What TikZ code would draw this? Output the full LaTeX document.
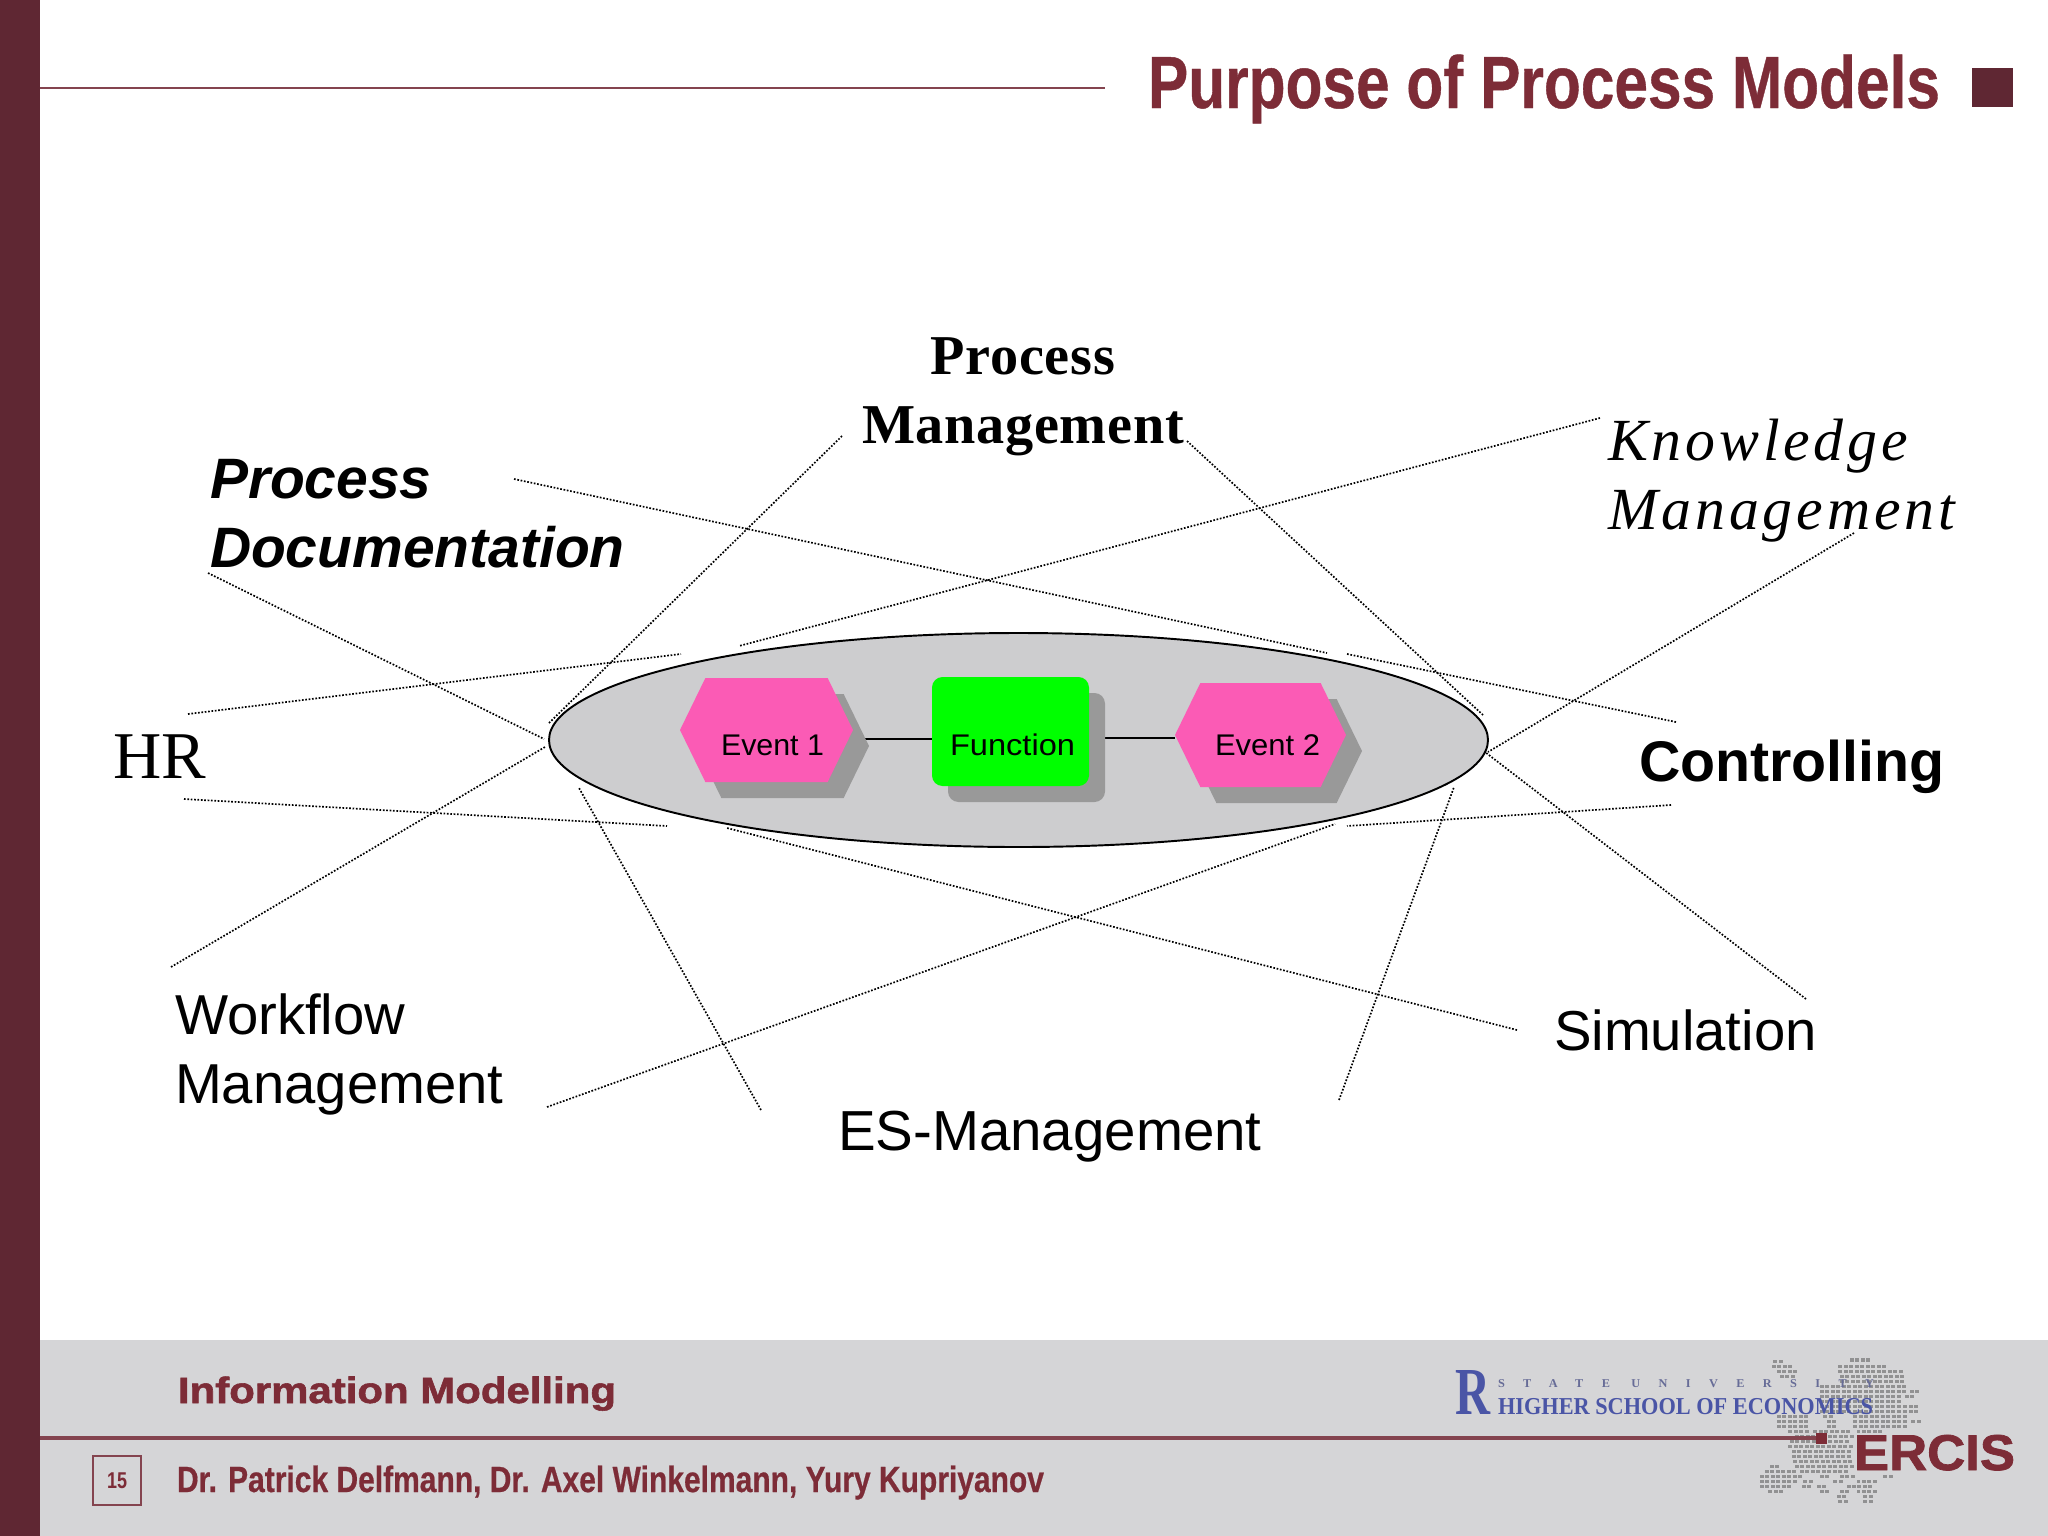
\documentclass[tikz,border=0pt]{standalone}
\usepackage{fontspec}
\usepackage{graphicx}
\usetikzlibrary{shapes.symbols,backgrounds}
\setmainfont{Liberation Serif}
\setsansfont{Liberation Sans}
\newfontfamily\pmfont[LetterSpace=1.2]{Liberation Serif}
\newfontfamily\kmfont[LetterSpace=6.5]{Liberation Serif}
\newfontfamily\hsefont[LetterSpace=150]{Liberation Serif}
\newfontfamily\heavyfont[FakeBold=1.5]{Liberation Sans Bold}
\newfontfamily\midfont[FakeBold=0.6]{Liberation Sans Bold}
\definecolor{sidebar}{HTML}{5F2733}
\definecolor{maroon}{HTML}{7D2C37}
\definecolor{rulered}{HTML}{84444F}
\definecolor{band}{HTML}{D5D5D7}
\definecolor{oval}{HTML}{CDCDCF}
\definecolor{hseblue}{HTML}{4A55A6}
\definecolor{evpink}{HTML}{FB5BB5}
\definecolor{fngreen}{HTML}{00FF00}
\newdimen\pxu \pxu=0.01cm
\newcommand{\fitw}[2]{\resizebox{#1\pxu}{\height}{#2}}
\tikzset{
  txt/.style={inner sep=0pt,outer sep=0pt,anchor=base west,align=left},
  big/.style={txt,font=\fontsize{16}{19.6}\selectfont\sffamily},
  serifbig/.style={txt,font=\fontsize{16}{19.6}\selectfont},
  dotline/.style={line width=.48pt,dash pattern=on .48pt off .48pt},
  evbox/.style={shape=signal,signal to=west and east,signal pointer angle=128,
    draw=none,inner sep=0pt,outer sep=0pt,minimum height=104\pxu},
  fnbox/.style={rectangle,rounded corners=3pt,draw=none,inner sep=0pt,outer sep=0pt,
    minimum width=157\pxu,minimum height=109\pxu},
  small/.style={txt,font=\fontsize{8.5}{10}\selectfont\sffamily}
}
\begin{document}
\begin{tikzpicture}[x=0.01cm,y=-0.01cm]
  \useasboundingbox (0,0) rectangle (2048,1536);
  % page furniture
  \fill[band] (0,1340) rectangle (2048,1536);
  \fill[sidebar] (0,0) rectangle (40,1536);
  \draw[rulered,line width=.55pt] (40,88) -- (1105,88);
  \node[txt,font=\fontsize{21}{24}\selectfont\midfont,text=maroon] (title) at (1148,108)
    {\fitw{792}{Purpose of Process Models}};
  \node[fill=sidebar,inner sep=0pt,minimum width=41\pxu,minimum height=39\pxu] (titlemark) at (1992.5,87.5) {};
  % europe map
  \begin{scope}[shift={(1740,1345)},x=0.00333cm,y=-0.00333cm]
    \foreach \ry/\ra/\rb in {
      40/330/380,45/100/125,60/95/160,60/295/435,75/110/160,75/295/490,90/120/160,90/300/490,
      105/300/490,120/240/490,135/240/490,135/510/525,150/240/480,150/495/510,165/240/480,
      180/240/480,180/490/525,195/240/480,195/490/525,210/110/200,210/250/275,210/340/490,
      225/110/200,225/260/280,225/340/490,225/515/525,240/110/195,240/260/275,240/340/490,
      255/145/195,255/220/330,255/350/420,270/165/330,285/150/330,300/145/330,315/155/330,
      330/155/330,345/160/330,360/90/105,360/165/330,375/75/170,375/180/315,390/60/180,
      390/240/250,390/300/340,390/430/460,405/60/175,405/190/195,405/280/310,405/350/400,
      420/60/150,420/185/195,420/230/250,420/320/400,435/85/120,435/240/250,435/300/320,
      435/350/400,450/290/320,450/370/395,465/295/305,465/370/380} {
      \pgfmathsetmacro{\rc}{\ra+16.5}
      \foreach \rx in {\ra,\rc,...,\rb} {
        \fill[black!32!band] (\rx,\ry) rectangle ++(12,10);
      }
    }
  \end{scope}
  % footer
  \draw[rulered,line width=1.2pt] (40,1438) -- (1821,1438);
  \node[fill=maroon,inner sep=0pt,minimum size=11\pxu] (linemark) at (1821,1438) {};
  \node[txt,font=\fontsize{10.4}{12}\selectfont\heavyfont,text=maroon] (course) at (178,1403)
    {\fitw{438}{Information Modelling}};
  \node[txt,font=\fontsize{10.4}{12}\selectfont\midfont,text=maroon] (authors) at (177,1492)
    {\fitw{867}{Dr. Patrick Delfmann, Dr. Axel Winkelmann, Yury Kupriyanov}};
  \node[draw=rulered,line width=.7pt,minimum width=48\pxu,minimum height=49\pxu,inner sep=0pt,
    font=\fontsize{6.5}{8}\selectfont\sffamily\bfseries,text=maroon] (pagebox) at (117,1480.5)
    {\fitw{20}{15}};
  % logos
  \node[txt,font=\fontsize{20}{20}\selectfont\bfseries,text=hseblue] (hselogo) at (1455,1414)
    {\resizebox{35\pxu}{44\pxu}{R}};
  \node[txt,font=\fontsize{3.4}{4}\selectfont\hsefont\bfseries,text=hseblue!70!black!75] (hsetop) at (1498,1387)
    {\fitw{376}{STATE UNIVERSITY}};
  \node[txt,font=\fontsize{6.9}{8}\selectfont\bfseries,text=hseblue] (hsebottom) at (1498,1414)
    {\fitw{375}{HIGHER SCHOOL OF ECONOMICS}};
  \node[txt,font=\fontsize{14.3}{16}\selectfont\heavyfont,text=maroon] (ercis) at (1854,1470)
    {\fitw{161}{ERCIS}};
  % process chain
  \node[evbox,fill=black!40,minimum width=173\pxu] (evoneshadow) at (782.5,746) {};
  \node[evbox,fill=evpink,minimum width=173\pxu] (evone) at (766.5,730) {};
  \node[fnbox,fill=black!40] (fnshadow) at (1026.5,747.5) {};
  \node[fnbox,fill=fngreen] (fn) at (1010.5,731.5) {};
  \node[evbox,fill=black!40,minimum width=171\pxu] (evtwoshadow) at (1276.5,751) {};
  \node[evbox,fill=evpink,minimum width=171\pxu] (evtwo) at (1260.5,735) {};
  \node[small] (evonetext) at (721,755) {\fitw{103}{Event 1}};
  \node[small] (fntext) at (950,755) {\fitw{125}{Function}};
  \node[small] (evtwotext) at (1215,755) {\fitw{105}{Event 2}};
  \coordinate (linka) at (0,739);
  \coordinate (linkb) at (0,738);
  \begin{scope}[on background layer]
    \fill[white] (0,0) rectangle (2048,1536);
    \draw[line width=.55pt,fill=oval] (1018.5,740) ellipse (469.5 and 107);
    \draw[line width=.55pt] (evone.east |- linka) -- (fn.west |- linka);
    \draw[line width=.55pt] (fn.east |- linkb) -- (evtwo.west |- linkb);
  \end{scope}
  % labels
  \node[big,font=\fontsize{16.2}{19.6}\selectfont\sffamily\bfseries\itshape] (pdoc) at (210,567)
    {Process\\Documentation};
  \node[serifbig,font=\fontsize{16}{19.4}\selectfont\pmfont\bfseries,align=center,anchor=base] (pmgmt) at (1023,443)
    {Process\\Management};
  \node[serifbig,font=\fontsize{17}{19.6}\selectfont\kmfont\itshape] (kmgmt) at (1608,529)
    {Knowledge\\Management};
  \node[serifbig,font=\fontsize{19}{22}\selectfont] (hrlabel) at (113,778) {HR};
  \node[big,font=\fontsize{16.3}{19.6}\selectfont\sffamily\bfseries] (ctrl) at (1639,781) {Controlling};
  \node[big] (sim) at (1554,1050) {Simulation};
  \node[big,font=\fontsize{16.05}{19.6}\selectfont\sffamily] (esmgmt) at (838,1150) {ES-Management};
  \node[big] (wfmgmt) at (175,1103) {Workflow\\Management};
  % dotted lines
  \coordinate (pdocA) at (514,479);   \coordinate (pdocB) at (1327,653);
  \coordinate (pdocC) at (208,573);   \coordinate (pdocD) at (544,739);
  \coordinate (pmgmtA) at (842,436);  \coordinate (pmgmtB) at (549,723);
  \coordinate (pmgmtC) at (1187,441); \coordinate (pmgmtD) at (1483,715);
  \coordinate (kmgmtA) at (1600,418); \coordinate (kmgmtB) at (739,646);
  \coordinate (kmgmtC) at (1854,533); \coordinate (kmgmtD) at (1488,752);
  \coordinate (ctrlA) at (1676,722);  \coordinate (ctrlB) at (1347,654);
  \coordinate (ctrlC) at (1671,805);  \coordinate (ctrlD) at (1347,826);
  \coordinate (simA) at (1806,999);   \coordinate (simB) at (1485,752);
  \coordinate (simC) at (1517,1030);  \coordinate (simD) at (727,828);
  \coordinate (esA) at (1339,1100);   \coordinate (esB) at (1454,787);
  \coordinate (esC) at (761,1110);    \coordinate (esD) at (579,788);
  \coordinate (wfA) at (547,1107);    \coordinate (wfB) at (1335,824);
  \coordinate (wfC) at (171,967);     \coordinate (wfD) at (545,747);
  \coordinate (hrA) at (188,714);     \coordinate (hrB) at (681,654);
  \coordinate (hrC) at (184,799);     \coordinate (hrD) at (667,826);
  \foreach \la/\lb in {pdocA/pdocB,pdocC/pdocD,pmgmtA/pmgmtB,pmgmtC/pmgmtD,kmgmtA/kmgmtB,kmgmtC/kmgmtD,
    ctrlA/ctrlB,ctrlC/ctrlD,simA/simB,simC/simD,esA/esB,esC/esD,wfA/wfB,wfC/wfD,hrA/hrB,hrC/hrD} {
    \draw[dotline] (\la) -- (\lb);
  }
\end{tikzpicture}
\end{document}
